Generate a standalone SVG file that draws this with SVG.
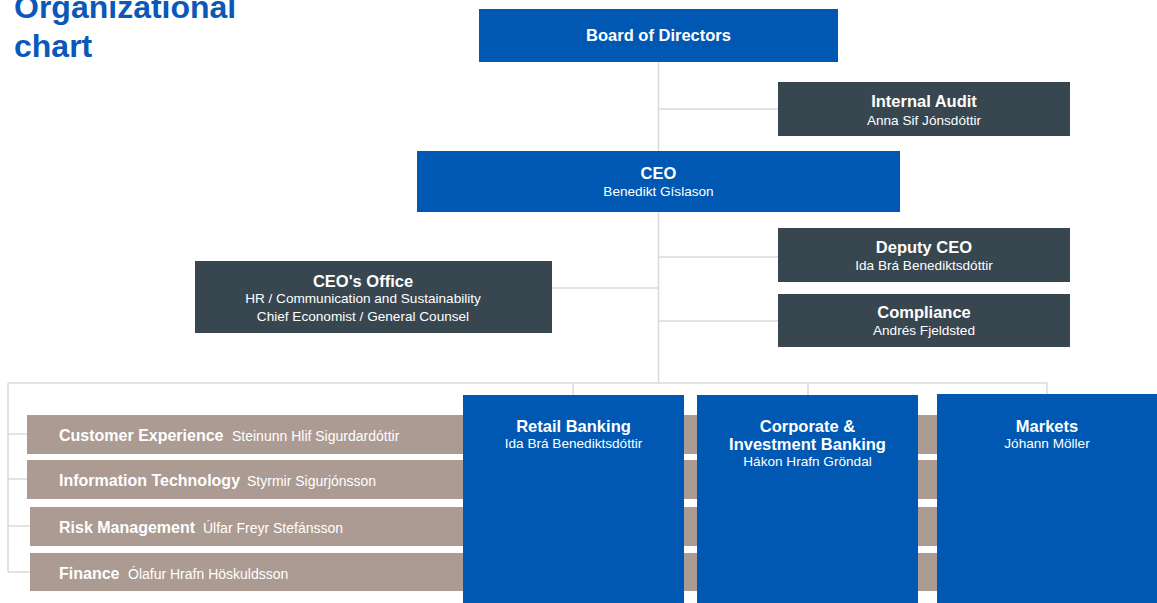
<svg xmlns="http://www.w3.org/2000/svg" width="1157" height="603" viewBox="0 0 1157 603">
  <style>
    text { font-family: "Liberation Sans", Arial, sans-serif; fill: #ffffff; }
    .title { font-size: 32px; font-weight: bold; fill: #0a58b8; }
    .head { font-size: 16.5px; font-weight: bold; text-anchor: middle; }
    .sub { font-size: 13.6px; text-anchor: middle; }
    .bar-head { font-size: 16px; font-weight: bold; }
    .bar-sub { font-size: 14px; }
    .blue { fill: #0058b3; }
    .slate { fill: #384650; }
    .taupe { fill: #ac9b92; }
    .link { stroke: #dadada; stroke-width: 1.5; fill: none; }
  </style>

  <rect width="1157" height="603" fill="#ffffff"/>

  <text class="title" x="14" y="18">Organizational</text>
  <text class="title" x="14" y="57">chart</text>

  <!-- reporting lines -->
  <g id="connectors">
    <path class="link" d="M658.5 62 V383"/>
    <path class="link" d="M658.5 109 H778"/>
    <path class="link" d="M552 288 H658.5"/>
    <path class="link" d="M658.5 257 H778"/>
    <path class="link" d="M658.5 321 H778"/>
    <path class="link" d="M8 383 H1047 V395"/>
    <path class="link" d="M573 383 V395"/>
    <path class="link" d="M808 383 V395"/>
    <path class="link" d="M8 383 V572"/>
    <path class="link" d="M8 434 H27"/>
    <path class="link" d="M8 479 H27"/>
    <path class="link" d="M8 526 H30"/>
    <path class="link" d="M8 572 H30"/>
  </g>

  <g id="board">
    <rect class="blue" x="479" y="9" width="359" height="53"/>
    <text class="head" x="658.5" y="41">Board of Directors</text>
  </g>

  <g id="internal-audit">
    <rect class="slate" x="778" y="82" width="292" height="54"/>
    <text class="head" x="924" y="107">Internal Audit</text>
    <text class="sub" x="924" y="125">Anna Sif Jónsdóttir</text>
  </g>

  <g id="ceo">
    <rect class="blue" x="417" y="151" width="483" height="61"/>
    <text class="head" x="658.5" y="179">CEO</text>
    <text class="sub" x="658.5" y="196">Benedikt Gíslason</text>
  </g>

  <g id="ceo-office">
    <rect class="slate" x="195" y="261" width="357" height="72"/>
    <text class="head" x="363" y="287">CEO's Office</text>
    <text class="sub" x="363" y="303">HR / Communication and Sustainability</text>
    <text class="sub" x="363" y="321">Chief Economist / General Counsel</text>
  </g>

  <g id="deputy-ceo">
    <rect class="slate" x="778" y="228" width="292" height="54"/>
    <text class="head" x="924" y="253">Deputy CEO</text>
    <text class="sub" x="924" y="270">Ida Brá Benediktsdóttir</text>
  </g>

  <g id="compliance">
    <rect class="slate" x="778" y="294" width="292" height="53"/>
    <text class="head" x="924" y="318">Compliance</text>
    <text class="sub" x="924" y="335">Andrés Fjeldsted</text>
  </g>

  <!-- shared service bars running behind the business units -->
  <g id="customer-experience">
    <rect class="taupe" x="27" y="415" width="915" height="39"/>
    <text class="bar-head" x="59" y="441">Customer Experience</text>
    <text class="bar-sub" x="232" y="441">Steinunn Hlif Sigurdardóttir</text>
  </g>

  <g id="information-technology">
    <rect class="taupe" x="27" y="460" width="915" height="39"/>
    <text class="bar-head" x="59" y="486">Information Technology</text>
    <text class="bar-sub" x="247" y="486">Styrmir Sigurjónsson</text>
  </g>

  <g id="risk-management">
    <rect class="taupe" x="30" y="507" width="912" height="39"/>
    <text class="bar-head" x="59" y="533">Risk Management</text>
    <text class="bar-sub" x="203" y="533">Úlfar Freyr Stefánsson</text>
  </g>

  <g id="finance">
    <rect class="taupe" x="30" y="553" width="912" height="38"/>
    <text class="bar-head" x="59" y="579">Finance</text>
    <text class="bar-sub" x="128" y="579">Ólafur Hrafn Höskuldsson</text>
  </g>

  <g id="retail-banking">
    <rect class="blue" x="463" y="395" width="221" height="208"/>
    <text class="head" x="573.5" y="432">Retail Banking</text>
    <text class="sub" x="573.5" y="448">Ida Brá Benediktsdóttir</text>
  </g>

  <g id="corporate-investment-banking">
    <rect class="blue" x="697" y="395" width="221" height="208"/>
    <text class="head" x="807.5" y="432">Corporate &amp;</text>
    <text class="head" x="807.5" y="450">Investment Banking</text>
    <text class="sub" x="807.5" y="466">Hákon Hrafn Gröndal</text>
  </g>

  <g id="markets">
    <rect class="blue" x="937" y="394" width="220" height="209"/>
    <text class="head" x="1047" y="432">Markets</text>
    <text class="sub" x="1047" y="448">Jóhann Möller</text>
  </g>
</svg>
